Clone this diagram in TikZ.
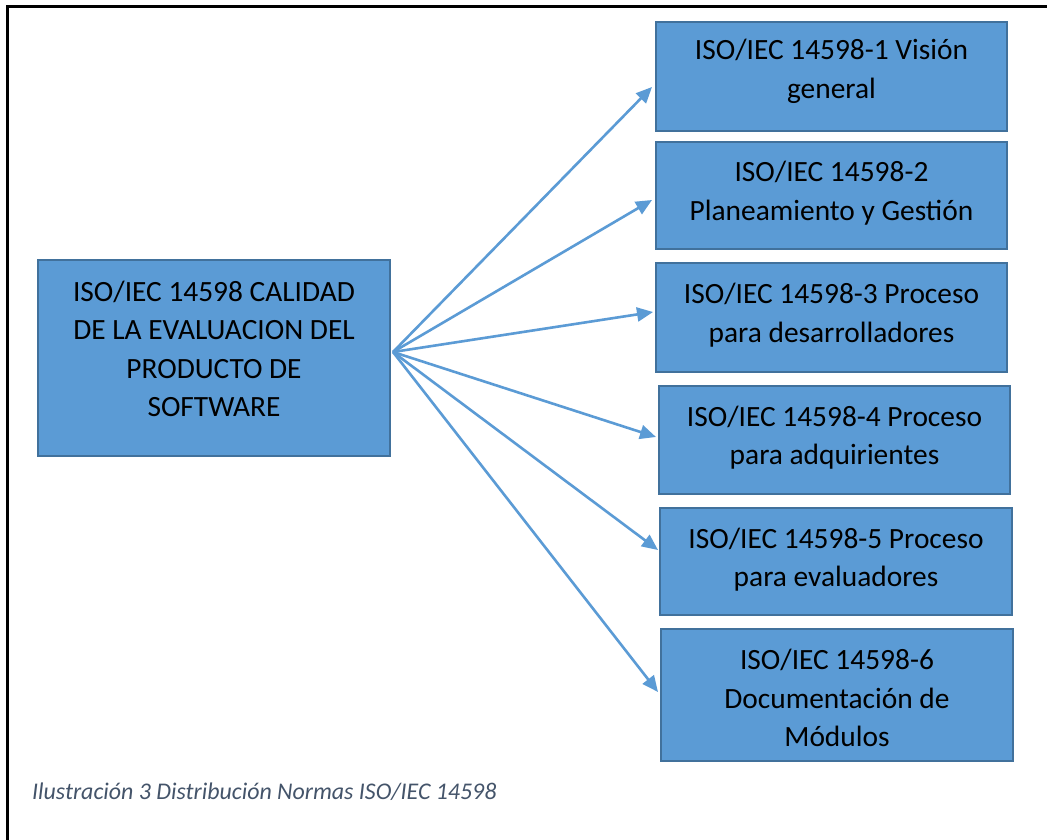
\documentclass[tikz,border=0pt]{standalone}
\usepackage{fontspec}
\setmainfont{Carlito}
\usetikzlibrary{arrows.meta,calc}
\definecolor{boxfill}{HTML}{5B9BD5}
\definecolor{boxline}{HTML}{41719C}
\definecolor{capcol}{HTML}{44546A}
\tikzset{
  stdbox/.style={draw=boxline,line width=2pt,fill=boxfill,inner sep=0pt},
  stdtext/.style={inner sep=0pt,align=center,
    font=\fontsize{29.4}{38.5}\selectfont,text=black},
  arr/.style={draw=boxfill,line width=2.6pt,
    -{Triangle[length=16pt,width=14pt]}},
}
\begin{document}
\begin{tikzpicture}[x=1pt,y=-1pt]
\useasboundingbox (0,0) rectangle (1047,840);
\fill[white] (0,0) rectangle (1047,840);
% page frame
\draw[black,line width=3pt] (7,845) -- (7,7) -- (1052,7);

% main standard
\node[stdbox,minimum width=352pt,minimum height=196pt] (main) at (214,358) {};
\node[stdtext] (maint) at ($(main.center)+(0,-9)$)
  {ISO/IEC 14598 CALIDAD\\DE LA EVALUACION DEL\\PRODUCTO DE\\SOFTWARE};

% parts of the standard
\node[stdbox,minimum width=351pt,minimum height=109pt] (b1) at (831.5,76.5) {};
\node[stdtext] (b1t) at ($(b1.center)+(0,-5)$)
  {ISO/IEC 14598-1 Visión\\general};
\node[stdbox,minimum width=351pt,minimum height=107pt] (b2) at (831.5,195.5) {};
\node[stdtext] (b2t) at ($(b2.center)+(0,-2.5)$)
  {ISO/IEC 14598-2\\Planeamiento y Gestión};
\node[stdbox,minimum width=351pt,minimum height=109pt] (b3) at (831.5,317.5) {};
\node[stdtext] (b3t) at ($(b3.center)+(0,-2.5)$)
  {ISO/IEC 14598-3 Proceso\\para desarrolladores};
\node[stdbox,minimum width=351pt,minimum height=108pt] (b4) at (834.5,440) {};
\node[stdtext] (b4t) at ($(b4.center)+(0,-2.5)$)
  {ISO/IEC 14598-4 Proceso\\para adquirientes};
\node[stdbox,minimum width=352pt,minimum height=107pt] (b5) at (836,561.5) {};
\node[stdtext] (b5t) at ($(b5.center)+(0,-2)$)
  {ISO/IEC 14598-5 Proceso\\para evaluadores};
\node[stdbox,minimum width=352pt,minimum height=132pt] (b6) at (837,695) {};
\node[stdtext] (b6t) at ($(b6.center)+(0,3)$)
  {ISO/IEC 14598-6\\Documentación de\\Módulos};

% connectors
\coordinate (src) at ($(main.east)+(2,-6)$);
\draw[arr] (src) -- ($(b1.west)+(-3,10.5)$);
\draw[arr] (src) -- ($(b2.west)+(-3,4.5)$);
\draw[arr] (src) -- ($(b3.west)+(-2,-5.5)$);
\draw[arr] (src) -- ($(b4.west)+(-2,-3)$);
\draw[arr] (src) -- ($(b5.west)+(-1,-11.5)$);
\draw[arr] (src) -- ($(b6.west)+(-2,-3)$);

% caption
\node[anchor=base west,inner sep=0pt,text=capcol,
  font=\fontsize{23.9}{28}\selectfont\itshape] (cap) at (32,799)
  {Ilustración 3 Distribución Normas ISO/IEC 14598};
\end{tikzpicture}
\end{document}
